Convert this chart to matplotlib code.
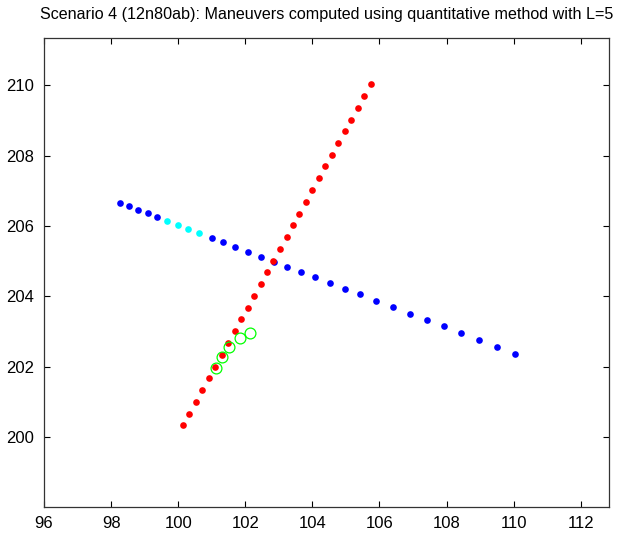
import matplotlib
matplotlib.use("Agg")
import matplotlib.pyplot as plt

# Blue vessel track (indices 5-8 drawn in cyan)
blue_x = [98.27, 98.54, 98.81, 99.09, 99.37, 99.67, 99.99, 100.29, 100.63, 101.00,
          101.35, 101.70, 102.08, 102.47, 102.85, 103.25, 103.66, 104.08, 104.53, 104.97,
          105.42, 105.90, 106.40, 106.91, 107.42, 107.92, 108.42, 108.97, 109.51, 110.05]
blue_y = [206.66, 206.56, 206.46, 206.36, 206.26, 206.15, 206.03, 205.92, 205.80, 205.67,
          205.54, 205.41, 205.27, 205.13, 204.99, 204.85, 204.70, 204.54, 204.38, 204.22,
          204.06, 203.88, 203.70, 203.51, 203.33, 203.15, 202.96, 202.77, 202.57, 202.37]
cyan_idx = [5, 6, 7, 8]

# Red vessel track
red_x = [100.14, 100.33, 100.53, 100.72, 100.91, 101.11, 101.30, 101.49, 101.68, 101.88,
         102.07, 102.26, 102.46, 102.65, 102.84, 103.04, 103.23, 103.42, 103.61, 103.81,
         104.00, 104.19, 104.39, 104.58, 104.77, 104.97, 105.16, 105.35, 105.55, 105.74]
red_y = [200.34, 200.67, 201.01, 201.34, 201.68, 202.01, 202.34, 202.68, 203.01, 203.35,
         203.68, 204.01, 204.35, 204.68, 205.02, 205.35, 205.68, 206.02, 206.35, 206.69,
         207.02, 207.35, 207.69, 208.02, 208.36, 208.69, 209.02, 209.36, 209.69, 210.03]

# Maneuver points (green circles)
green_x = [101.13, 101.32, 101.51, 101.85, 102.13]
green_y = [201.96, 202.27, 202.57, 202.83, 202.97]

title = "Scenario 4 (12n80ab): Maneuvers computed using quantitative method with L=5"
xticks = [96, 98, 100, 102, 104, 106, 108, 110, 112]
yticks = [200, 202, 204, 206, 208, 210]

plt.rcParams['font.family'] = ['Liberation Sans', 'DejaVu Sans']

fig = plt.figure(figsize=(6.18, 5.38), dpi=100)
ax = fig.add_axes([0.0712, 0.0582, 0.9147, 0.8706])

bx = [v for i, v in enumerate(blue_x) if i not in cyan_idx]
by = [v for i, v in enumerate(blue_y) if i not in cyan_idx]
cx = [blue_x[i] for i in cyan_idx]
cy = [blue_y[i] for i in cyan_idx]

ax.plot(bx, by, linestyle='none', marker='o', markersize=4.8, color=(0, 0, 1), markeredgewidth=0)
ax.plot(cx, cy, linestyle='none', marker='o', markersize=4.8, color=(0, 1, 1), markeredgewidth=0)
ax.plot(red_x, red_y, linestyle='none', marker='o', markersize=4.8, color=(1, 0, 0), markeredgewidth=0)
ax.plot(green_x, green_y, linestyle='none', marker='o', markersize=7.8, markerfacecolor='none',
        markeredgecolor=(0, 1, 0), markeredgewidth=0.9)

ax.set_xlim(96, 112.85)
ax.set_ylim(198.03, 211.33)
ax.set_xticks(xticks)
ax.set_yticks(yticks)
ax.tick_params(direction='in', length=4, width=0.8, top=True, right=True,
               labelsize=12, pad=7, colors='black')
for s in ax.spines.values():
    s.set_linewidth(0.9)
    s.set_color('#333333')

ax.set_title(title, fontsize=11.6, pad=14)

fig.savefig("out.png", dpi=100)
